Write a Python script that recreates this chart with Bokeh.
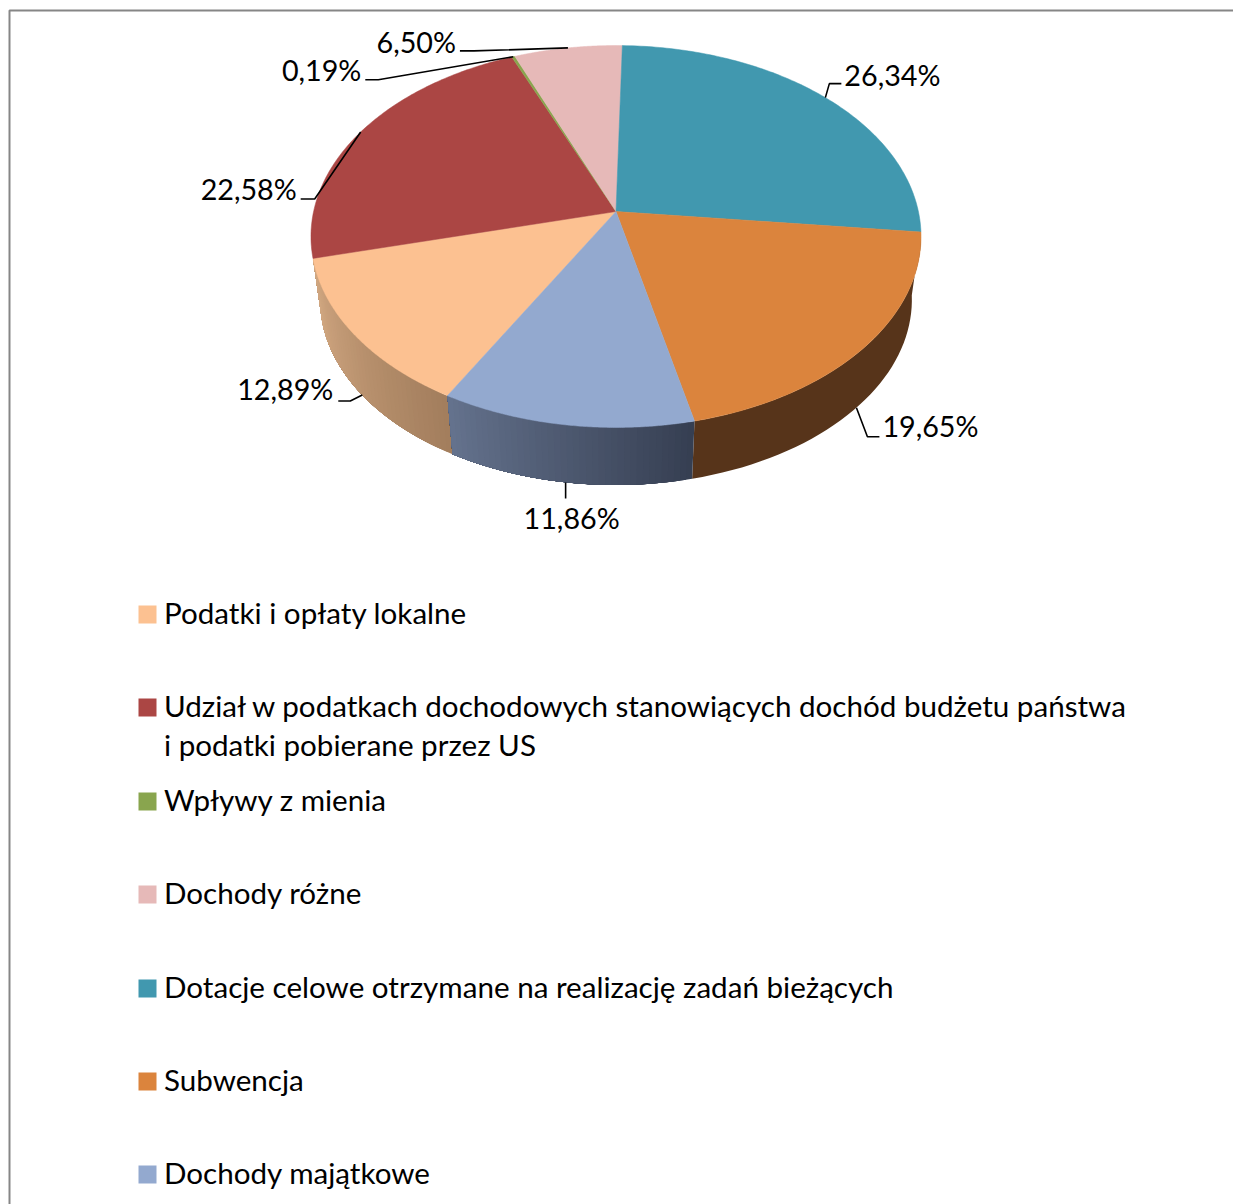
import numpy as np
from bokeh.plotting import figure
from bokeh.models import Range1d
from bokeh.core.properties import value
from bokeh.embed import file_html
from bokeh.resources import INLINE

# ---- data (clockwise order, first category starts at START_ANGLE) ----
categories = ["Podatki i opłaty lokalne",
              "Udział w podatkach dochodowych stanowiących dochód budżetu państwa\ni podatki pobierane przez US",
              "Wpływy z mienia", "Dochody różne",
              "Dotacje celowe otrzymane na realizację zadań bieżących",
              "Subwencja", "Dochody majątkowe"]
shares = [12.89, 22.58, 0.19, 6.50, 26.34, 19.65, 11.86]
share_labels = ["12,89%", "22,58%", "0,19%", "6,50%", "26,34%", "19,65%", "11,86%"]
colors = ["#FCC191", "#AB4644", "#89A54E", "#E6B9B8", "#4198AF", "#DB843D", "#93A9CF"]
wall_from = ["#A37E5D", None, None, None, None, "#57341A", "#363F52"]
wall_to = ["#D2A882", None, None, None, None, "#57341A", "#64728D"]

# ---- layout ----
W, H = 1233, 1204
FONT = "Lato"
FS_LABEL = "28.7px"
FS_LEGEND = "29.6px"
START_ANGLE = 209.6
CX, CY, A, B, K = 615.5, 211.0, 302.4, 187.7, 0.1309   # perspective of the top disc
WALL_SCALE, WALL_CY = 0.97, 275.0                       # lower disc
# on wall?, start dx, elbow dx,dy, end dx,dy, label dx,dy, align
leaders = {
    0: (True, 0, -12, 6, -24, 6, -5, -12, "right"),
    1: (False, 0, -46, 67, -60, 67, -4, -10, "right"),
    2: (False, 0, -135, 23, -148, 23, -4, -10, "right"),
    3: (False, 0, -94, 3, -108, 3, -4, -9, "right"),
    4: (False, 0, 4, -14, 16, -14, 3, -9, "left"),
    5: (True, 0, 11, 29, 23, 29, 3, -11, "left"),
    6: (True, -2, 0, 16, 0, 16, 6, 20, "center"),
}
legend_y = [614, 707, 801, 894, 988, 1081, 1174]
LINE2_DY = 39
LEG_TEXT_DY = -2
LEG_BOX_X, LEG_BOX, LEG_TEXT_X = 138, 18, 163.5


def top(theta):
    t = np.radians(theta)
    u, v = np.sin(t), -np.cos(t)
    d = 1 - K * v
    return CX + A * u / d, CY + B * v / d


def low(theta):
    x, y = top(theta)
    return CX + WALL_SCALE * (x - CX), WALL_CY + WALL_SCALE * (y - CY)


def lerp_hex(c1, c2, f):
    a = [int(c1[i:i + 2], 16) for i in (1, 3, 5)]
    b = [int(c2[i:i + 2], 16) for i in (1, 3, 5)]
    return "#%02x%02x%02x" % tuple(int(round(p + (q - p) * f)) for p, q in zip(a, b))


p = figure(width=W, height=H, output_backend="svg", toolbar_location=None,
           x_range=Range1d(0, W), y_range=Range1d(H, 0), min_border=0)
p.axis.visible = False
p.grid.visible = False
p.outline_line_color = None
p.background_fill_color = "white"

# chart frame, running past the window on the right and bottom
p.line([1300, 9, 9], [10, 10, 1300], line_color="#868686", line_width=2)

bounds = START_ANGLE + 3.6 * np.concatenate([[0], np.cumsum(shares)]) * 100 / sum(shares)

# walls: each gradient step is painted over the rest of its wall, so no seams show
for i in range(len(shares)):
    if wall_from[i] is None:
        continue
    n = 40 if wall_from[i] != wall_to[i] else 1
    edges = np.linspace(bounds[i], bounds[i + 1], n + 1)
    for j in range(n):
        ang = np.linspace(edges[j], bounds[i + 1], 40)
        tx, ty = top(ang)
        lx, ly = low(ang)
        c = lerp_hex(wall_from[i], wall_to[i], j / max(n - 1, 1))
        p.patch(np.r_[tx, lx[::-1]], np.r_[ty, ly[::-1]], fill_color=c, line_color=None)

# top face
for i in range(len(shares)):
    ang = np.linspace(bounds[i], bounds[i + 1], 120)
    x, y = top(ang)
    p.patch(np.r_[CX, x], np.r_[CY, y], fill_color=colors[i],
            line_color=colors[i], line_width=0.5)

# leaders and data labels
for i, txt in enumerate(share_labels):
    on_wall, sx, ex, ey, fx, fy, lx, ly, al = leaders[i]
    ax, ay = (low if on_wall else top)((bounds[i] + bounds[i + 1]) / 2)
    ax = ax + sx
    p.line([ax, ax + ex, ax + fx], [ay, ay + ey, ay + fy], line_color="black", line_width=1.6)
    p.text([ax + fx + lx], [ay + fy + ly], text=[txt],
           text_font=value(FONT), text_font_size=FS_LABEL, text_color="black",
           text_align=al, text_baseline="middle")

# legend
for i, name in enumerate(categories):
    y = legend_y[i]
    p.quad(left=[LEG_BOX_X], right=[LEG_BOX_X + LEG_BOX], top=[y - LEG_BOX / 2], bottom=[y + LEG_BOX / 2],
           fill_color=colors[i], line_color=None)
    for k, line in enumerate(name.split("\n")):
        p.text([LEG_TEXT_X], [y + LEG_TEXT_DY + k * LINE2_DY], text=[line], text_font=value(FONT),
               text_font_size=FS_LEGEND, text_color="black", text_align="left", text_baseline="middle")

open("out.html", "w").write(file_html(p, INLINE))
